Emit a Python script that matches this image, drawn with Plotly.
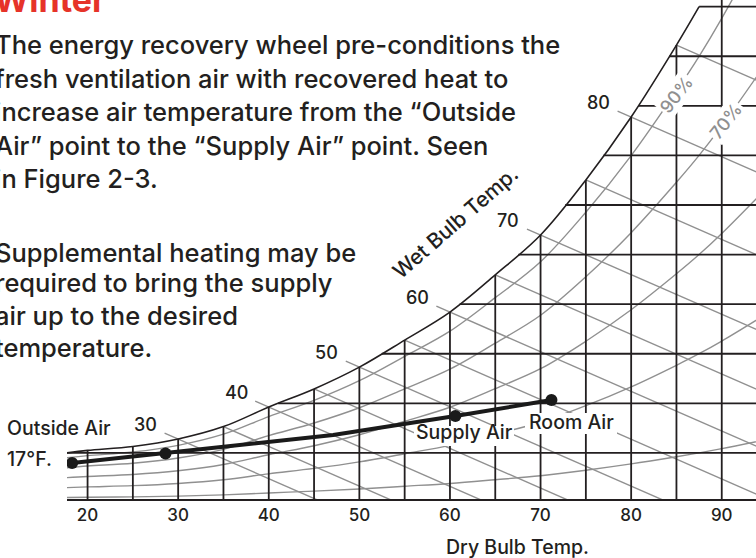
import numpy as np
import plotly.graph_objects as go

# ---------------- data ----------------
dry_bulb_ticks = [20, 30, 40, 50, 60, 70, 80, 90]
dry_bulb_grid = [20, 25, 30, 35, 40, 45, 50, 55, 60, 65, 70, 75, 80, 85, 90]
humidity_grid = [20, 40, 60, 80, 100, 120, 140, 160, 180, 200]      # grains / lb
sat_T = [17.7, 20, 25, 30, 35, 40, 45, 50, 55, 60, 65, 70, 75, 80, 85, 87.5, 90, 95]
sat_W = [20.0, 21.0, 22.6, 25.6, 30.6, 38.5, 45.8, 54.6, 65.5, 76.8, 91.8, 107.9,
         130.1, 155.5, 184.5, 200.0, 217.0, 254.0]
chart_top_W = 200.0
rh_levels = [90, 70, 50, 30, 10]
rh_labels = ["90%", "70%"]
rh_label_T = [85.0, 90.5]
rh_label_W = [164.5, 154.0]
wet_bulb_T = [30, 35, 40, 45, 50, 55, 60, 65, 70, 75, 80, 85]
wet_bulb_labels = [30, 40, 50, 60, 70, 80]
wet_bulb_slope = -1.6                      # grains per degF along a wet-bulb line
process_T = [18.3, 28.6, 47.1, 60.6, 71.2]
process_W = [15.9, 19.8, 27.2, 34.9, 41.3]
process_dot = [True, True, False, True, True]
point_labels = ["Supply Air", "Room Air"]
point_label_T = [61.6, 73.4]
point_label_W = [28.4, 32.6]

title_text = "Winter"
para1 = ["The energy recovery wheel pre-conditions the",
         "fresh ventilation air with recovered heat to",
         "increase air temperature from the “Outside",
         "Air” point to the “Supply Air” point. Seen",
         "in Figure 2-3."]
para2 = ["Supplemental heating may be",
         "required to bring the supply",
         "air up to the desired",
         "temperature."]

# ---------------- styling / layout constants ----------------
W_FIG, H_FIG = 756, 558
ML, MB = 67, 59
PW, PH = W_FIG - ML, H_FIG - MB
X_RANGE = [17.73, 93.78]
Y_RANGE = [1.4, 202.7]
FONT = "Inter, Liberation Sans, Arial, sans-serif"
WT = 500
INK = "#231f20"
GRAY = "#909090"


def px(x):
    return (x - ML) / PW


def py(y):
    return (PH - y) / PH


def dx(x):   # pixel -> data (dry bulb)
    return X_RANGE[0] + (x - ML) / PW * (X_RANGE[1] - X_RANGE[0])


def dy(y):   # pixel -> data (humidity)
    return Y_RANGE[0] + (PH - y) / PH * (Y_RANGE[1] - Y_RANGE[0])


def wsat(t):
    return float(np.interp(t, sat_T, sat_W))


def tsat(w):
    return float(np.interp(w, sat_W, sat_T))


def f(size, color=INK, weight=WT):
    return dict(family=FONT, size=size, color=color, weight=weight)


fig = go.Figure()

# relative humidity curves
for rh in rh_levels:
    fig.add_trace(go.Scatter(x=sat_T, y=[rh / 100 * w for w in sat_W], mode="lines",
                             line=dict(color=GRAY, width=1.4, shape="spline"),
                             hoverinfo="skip"))

# wet bulb lines
wx, wy = [], []
for t in wet_bulb_T:
    ws = wsat(t)
    if t in wet_bulb_labels:
        t0, w0 = t - 1.5, ws - 1.5 * wet_bulb_slope
    else:
        t0, w0 = t, ws
    t1 = t + ws / (-wet_bulb_slope)
    wx += [t0, t1, None]
    wy += [w0, 0, None]
fig.add_trace(go.Scatter(x=wx, y=wy, mode="lines", line=dict(color=GRAY, width=1.4),
                         hoverinfo="skip"))

# black grid (only below saturation)
gx, gy = [], []
for t in dry_bulb_grid:
    top = wsat(t) if wsat(t) <= chart_top_W else 260
    gx += [t, t, None]
    gy += [0, top, None]
for w in humidity_grid:
    gx += [tsat(w), 100, None]
    gy += [w, w, None]
fig.add_trace(go.Scatter(x=gx, y=gy, mode="lines", line=dict(color=INK, width=1.8),
                         hoverinfo="skip"))

# saturation curve
st = [t for t, w in zip(sat_T, sat_W) if w <= chart_top_W]
sw = [w for w in sat_W if w <= chart_top_W]
fig.add_trace(go.Scatter(x=st, y=sw, mode="lines",
                         line=dict(color=INK, width=1.6, shape="spline"), hoverinfo="skip"))

# process line
fig.add_trace(go.Scatter(x=process_T, y=process_W, mode="lines",
                         line=dict(color="#1a1a1a", width=4), hoverinfo="skip"))
fig.add_trace(go.Scatter(x=[t for t, d in zip(process_T, process_dot) if d],
                         y=[w for w, d in zip(process_W, process_dot) if d],
                         mode="markers", marker=dict(color="#1a1a1a", size=12),
                         hoverinfo="skip"))

# white knock-out boxes behind the point labels (pixel extents of the glyphs)
label_boxes = [(414, 514, 426, 446), (525, 617, 413, 434)]
shapes = []
for x0, x1, y0, y1 in label_boxes:
    shapes.append(dict(type="rect", xref="x", yref="y", x0=dx(x0), x1=dx(x1),
                       y0=dy(y1), y1=dy(y0), fillcolor="white", line=dict(width=0),
                       layer="above"))

ann = []
# wet-bulb labels
for t in wet_bulb_labels:
    ann.append(dict(x=t - 3.6, y=wsat(t) + 5.8, xref="x", yref="y", text=str(t),
                    showarrow=False, font=f(18),
                    xanchor="center", yanchor="middle"))
# RH labels
for lab, t, w in zip(rh_labels, rh_label_T, rh_label_W):
    ann.append(dict(x=t, y=w, xref="x", yref="y", text=lab, showarrow=False,
                    textangle=-52, bgcolor="white", borderpad=1,
                    font=f(18, GRAY),
                    xanchor="center", yanchor="middle"))
# process point labels
for lab, t, w in zip(point_labels, point_label_T, point_label_W):
    ann.append(dict(x=t, y=w, xref="x", yref="y", text=lab, showarrow=False,
                    font=f(19.5), xanchor="center", yanchor="middle"))

# outside air label
ann.append(dict(x=px(5), y=py(427.6), xref="paper", yref="paper", text="Outside Air",
                showarrow=False, font=f(19.5), xanchor="left", yanchor="middle"))
ann.append(dict(x=px(5), y=py(458.5), xref="paper", yref="paper", text="17°F.",
                showarrow=False, font=f(19.5), xanchor="left", yanchor="middle"))
# wet bulb axis label
ann.append(dict(x=px(455), y=py(222), xref="paper", yref="paper", text="Wet Bulb Temp.",
                showarrow=False, textangle=-41, font=f(21),
                xanchor="center", yanchor="middle"))
# dry bulb axis title
ann.append(dict(x=px(517.5), y=py(546.5), xref="paper", yref="paper", text="Dry Bulb Temp.",
                showarrow=False, font=f(19.5), borderpad=0,
                xanchor="center", yanchor="middle"))

# title and paragraphs
ann.append(dict(x=px(-8), y=py(11.7 - 0.36 * 34), xref="paper", yref="paper",
                text=title_text, showarrow=False,
                font=f(34, "#e63329", 700),
                xanchor="left", yanchor="middle"))
BODY = 25.5
for line, base in zip(para1, [54, 87.7, 121, 155, 188]):
    ann.append(dict(x=px(-7), y=py(base - 0.36 * BODY), xref="paper", yref="paper",
                    text=line, showarrow=False, font=f(BODY),
                    xanchor="left", yanchor="middle"))
for line, base in zip(para2, [261.7, 292, 325, 357]):
    ann.append(dict(x=px(-7), y=py(base - 0.36 * BODY), xref="paper", yref="paper",
                    text=line, showarrow=False, font=f(BODY),
                    xanchor="left", yanchor="middle"))

fig.update_layout(
    template="none",
    width=W_FIG, height=H_FIG,
    margin=dict(l=ML, r=0, t=0, b=MB, pad=0),
    paper_bgcolor="white", plot_bgcolor="white",
    showlegend=False,
    annotations=ann,
    shapes=shapes,
    xaxis=dict(range=X_RANGE, showgrid=False, zeroline=False, showline=True,
               linecolor=INK, linewidth=2, ticks="", tickvals=dry_bulb_ticks,
               ticktext=[str(t) for t in dry_bulb_ticks],
               tickfont=f(17), automargin=False, fixedrange=True),
    yaxis=dict(range=Y_RANGE, visible=False, automargin=False, fixedrange=True),
)

fig.write_html("out.html", config={"displayModeBar": False, "staticPlot": True},
               post_script="document.body.style.margin='0';document.body.style.overflow='hidden';")
